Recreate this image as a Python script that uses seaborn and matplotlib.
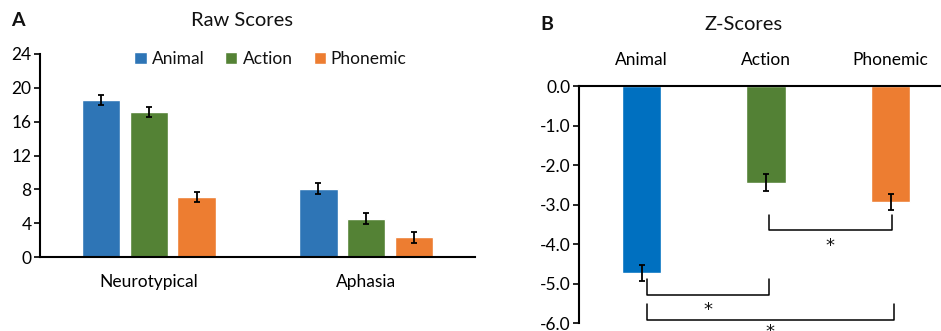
import numpy as np
import pandas as pd
import matplotlib
matplotlib.use('Agg')
import matplotlib.pyplot as plt
import seaborn as sns

# --- Data ---
groups = ['Neurotypical', 'Aphasia']
tasks = ['Animal', 'Action', 'Phonemic']

raw_neuro = [18.6, 17.1, 7.05]
raw_aphasia = [8.05, 4.55, 2.35]
raw_err_neuro = [0.6, 0.6, 0.6]
raw_err_aphasia = [0.65, 0.65, 0.65]

z_means = [-4.72, -2.44, -2.93]
z_err = [0.2, 0.21, 0.2]

raw_colors = ['#2E75B6', '#548235', '#ED7D31']
z_colors = ['#0070C0', '#538135', '#ED7D31']

# significance brackets: (left task, right task)
brackets = [('Action', 'Phonemic'), ('Animal', 'Action'), ('Animal', 'Phonemic')]

sns.set_style('white')
plt.rcParams['font.family'] = ['Lato', 'DejaVu Sans']
plt.rcParams['font.size'] = 12.5
plt.rcParams['text.color'] = '#111111'
plt.rcParams['xtick.color'] = 'black'
plt.rcParams['ytick.color'] = 'black'

W, H = 941, 331
fig = plt.figure(figsize=(W / 100, H / 100), dpi=100)

def box(l, r, b, t):
    return [l / W, 1 - b / H, (r - l) / W, (b - t) / H]

# --- Panel A: raw scores ---
axA = fig.add_axes(box(40, 475, 257, 54))
raw_df = pd.DataFrame({
    'group': np.repeat(groups, len(tasks)),
    'task': tasks * len(groups),
    'score': raw_neuro + raw_aphasia,
    'err': raw_err_neuro + raw_err_aphasia,
})
sns.barplot(data=raw_df, x='group', y='score', hue='task', hue_order=tasks,
            palette=raw_colors, width=0.66, gap=0.2, saturation=1,
            errorbar=None, ax=axA)
for cont, task in zip(axA.containers, tasks):
    sub = raw_df[raw_df.task == task]
    xs = [b.get_x() + b.get_width() / 2 for b in cont]
    axA.errorbar(xs, sub.score, yerr=sub.err, fmt='none', ecolor='black',
                 elinewidth=1.3, capsize=2.5, capthick=1.3)
axA.set_xlim(-0.5, 1.5)
axA.set_ylim(0, 24)
axA.set_yticks(range(0, 25, 4))
axA.set_xlabel('')
axA.set_ylabel('')
sns.despine(ax=axA)
for s in ['left', 'bottom']:
    axA.spines[s].set_linewidth(1.5)
    axA.spines[s].set_color('black')
axA.tick_params(axis='y', left=True, length=4, width=1.2, pad=2, labelsize=12.5)
axA.tick_params(axis='x', length=0, pad=12, labelsize=12.5)
axA.legend(loc='center', bbox_to_anchor=(0.53, 0.975), ncol=3, frameon=False,
           handlelength=0.7, handleheight=0.7, handletextpad=0.3,
           columnspacing=1.2, fontsize=12.5)

fig.text(18 / W, 1 - 21 / H, 'A', fontsize=14, fontweight='bold',
         ha='center', va='center')
fig.text(242 / W, 1 - 21 / H, 'Raw Scores', fontsize=14.5,
         ha='center', va='center')

# --- Panel B: z-scores ---
axB = fig.add_axes(box(579.3, 941, 323.3, 86))
sns.barplot(x=tasks, y=z_means, hue=tasks, palette=z_colors, legend=False,
            width=0.32, saturation=1, ax=axB)
axB.errorbar(range(len(tasks)), z_means, yerr=z_err, fmt='none',
             ecolor='black', elinewidth=1.3, capsize=2.5, capthick=1.3)
axB.set_xlim(-0.5, 2.405)
axB.set_ylim(-6, 0)
axB.set_yticks(np.arange(-6, 0.1, 1))
axB.set_yticklabels([f'{v:.1f}' for v in np.arange(-6, 0.1, 1)])
axB.xaxis.tick_top()
axB.tick_params(axis='x', length=0, pad=13, labelsize=12.5)
axB.tick_params(axis='y', left=True, length=4, width=1.2, pad=2, labelsize=12.5)
for s in ['right', 'bottom']:
    axB.spines[s].set_visible(False)
for s in ['left', 'top']:
    axB.spines[s].set_linewidth(1.5)
    axB.spines[s].set_color('black')

# bracket geometry (x offsets and levels in data units)
bx = {'Animal': 0.04, 'Action': 1.02, 'Phonemic': 2.01}
levels = [(-3.27, -3.64, -4.05), (-4.88, -5.28, -5.66), (-5.5, -5.92, -6.22)]
for (a, b), (top, bot, star) in zip(brackets, levels):
    xa, xb = bx[a], bx[b]
    if b == 'Phonemic' and a == 'Animal':
        xb = 2.03
    axB.plot([xa, xa, xb, xb], [top, bot, bot, top], color='black', lw=1.1,
             clip_on=False)
    axB.text((xa + xb) / 2, star, '*', ha='center', va='center', fontsize=13,
             family='DejaVu Sans', clip_on=False)

fig.text(547 / W, 1 - 25 / H, 'B', fontsize=14, fontweight='bold',
         ha='center', va='center')
fig.text(744 / W, 1 - 25 / H, 'Z-Scores', fontsize=14.5,
         ha='center', va='center')

fig.savefig('out.png', dpi=100)
